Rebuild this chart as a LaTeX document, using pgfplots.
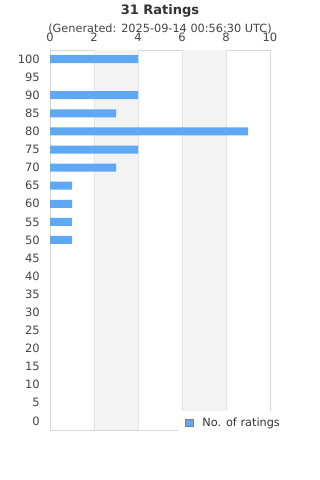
\documentclass[border=0pt]{standalone}
\usepackage{fontspec}
\setmainfont{DejaVu Sans}
\usepackage{pgfplots}
\pgfplotsset{compat=1.18}
\definecolor{barc}{HTML}{5FA8F4}
\definecolor{txt}{HTML}{444444}
\definecolor{ttl}{HTML}{333333}
\definecolor{gridc}{HTML}{E3E3E3}
\definecolor{axisc}{HTML}{D6D6D6}
\definecolor{band}{HTML}{F3F3F3}
\begin{document}
\begin{tikzpicture}
\path[use as bounding box] (0bp,0bp) rectangle (320bp,480bp);
\node[font=\fontsize{13bp}{15bp}\selectfont\bfseries, text=ttl, anchor=base] at (160bp,465bp) {31 Ratings};
\node[font=\fontsize{11.3bp}{13bp}\selectfont, text=txt, anchor=base] at (160bp,447bp) {(Generated: 2025-09-14 00:56:30 UTC)};
\begin{axis}[
  at={(50bp,50bp)}, anchor=south west,
  scale only axis, width=220bp, height=380bp,
  xbar, bar width=8bp,
  xmin=0, xmax=10, ymin=-2.5, ymax=102.5,
  xtick={0,2,...,10}, ytick={0,5,...,100},
  xticklabel pos=upper,
  major tick length=0pt,
  axis line style={axisc, line width=0.9bp},
  tick label style={font=\fontsize{11.5bp}{13bp}\selectfont, text=txt},
  /pgf/number format/assume math mode=true,
  xticklabel style={anchor=base, inner sep=0pt, yshift=8bp},
  yticklabel style={anchor=east, inner sep=0pt, xshift=-10bp},
  clip=false,
  legend style={at={(axis cs:6.14,-0.55)}, anchor=west, draw=none, fill=none, inner sep=0pt,
    font=\fontsize{11.3bp}{13bp}\selectfont, text=ttl,
    /tikz/every odd column/.style={column sep=7bp}},
  legend image code/.code={\draw[fill=barc, draw=gray, line width=0.7bp] (0bp,-3.5bp) rectangle (7.5bp,3.5bp);},
]
\fill[band] (axis cs:2,-2.5) rectangle (axis cs:4,102.5);
\fill[band] (axis cs:6,-2.5) rectangle (axis cs:8,102.5);
\draw[gridc, line width=0.8bp] (axis cs:2,-2.5) -- (axis cs:2,102.5);
\draw[gridc, line width=0.8bp] (axis cs:4,-2.5) -- (axis cs:4,102.5);
\draw[gridc, line width=0.8bp] (axis cs:6,-2.5) -- (axis cs:6,102.5);
\draw[gridc, line width=0.8bp] (axis cs:8,-2.5) -- (axis cs:8,102.5);
\addplot[fill=barc, draw=none] coordinates {(4,100) (4,90) (3,85) (9,80) (4,75) (3,70) (1,65) (1,60) (1,55) (1,50)};
\addlegendentry{No. of ratings}
\fill[white] (axis cs:5.82,2.75) rectangle (axis cs:10.5,-4.2);
\end{axis}
\end{tikzpicture}
\end{document}
